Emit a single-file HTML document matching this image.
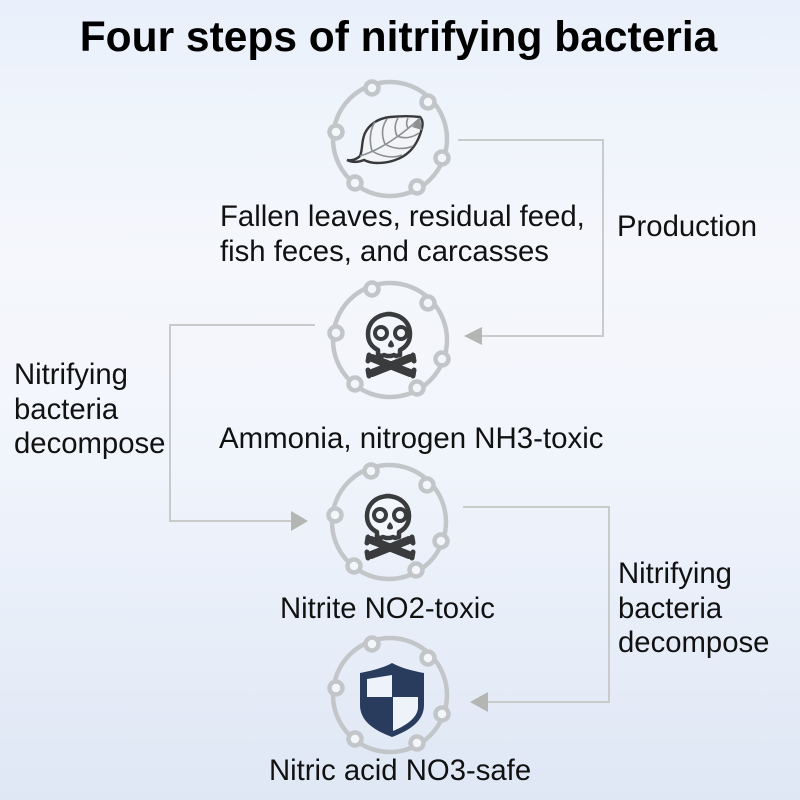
<!DOCTYPE html>
<html><head><meta charset="utf-8"><style>
html,body{margin:0;padding:0}
body{width:800px;height:800px;overflow:hidden;position:relative;background:linear-gradient(180deg,#e9f0fb 0%,#eff4fb 14%,#f5f7fc 32%,#f3f6fc 50%,#e9eff9 75%,#dfe7f5 100%);font-family:"Liberation Sans",sans-serif;color:#111}
svg{position:absolute;left:0;top:0}
.t{position:absolute;font-size:29.3px;line-height:34.5px;white-space:nowrap}
</style></head><body>
<svg width="800" height="800" viewBox="0 0 800 800">
<defs>
<g id="ring" fill="none" stroke="#c3c6c9" stroke-width="4.5">
<circle cx="0" cy="0" r="57"/>
<g fill="#f3f6fb"><circle cx="-18" cy="-51" r="6.5"/><circle cx="38" cy="-37" r="6.5"/><circle cx="-54" cy="-7" r="6.5"/><circle cx="52" cy="19" r="6.5"/><circle cx="-35" cy="44" r="6.5"/><circle cx="27" cy="48" r="6.5"/></g>
</g>
<g id="skull">
<path d="M0,-26c-15,0-23,9-23,20c0,8,4,13,10,16v5l4,1l2-1l3,1l4,0l3,-1l2,1l4,-1v-5c6-3,10-8,10-16c0-11-8-20-23-20z" fill="#f3f6fb" stroke="#3a3b3d" stroke-width="4.5" stroke-linejoin="round"/>
<circle cx="-10" cy="-7" r="6" fill="none" stroke="#3a3b3d" stroke-width="4"/>
<circle cx="8" cy="-7" r="6" fill="none" stroke="#3a3b3d" stroke-width="4" transform="translate(2,0)"/>
<path d="M0,0c-2,2-3,4-3,6c1,2,5,2,6,0c0-2-1-4-3-6z" fill="#3a3b3d"/>
<g stroke="#3a3b3d" stroke-width="8" stroke-linecap="round">
<path d="M-19,18L19,33"/>
<path d="M19,18L-19,33"/>
</g>
<g stroke="#3a3b3d" stroke-width="5" stroke-linecap="round">
<path d="M-22,15l-1,6M22,15l1,6M-23,30l1,6M23,30l-1,6"/>
</g>
</g>
</defs>
<use href="#ring" x="390" y="139"/>
<use href="#ring" x="390" y="340"/>
<use href="#ring" x="389" y="522"/>
<use href="#ring" x="390" y="695"/>
<g fill="none" stroke="#c8cbc9" stroke-width="2">
<path d="M458,140H603V336H482"/>
<path d="M315,325H170V521H292"/>
<path d="M463,507H609V702H488"/>
</g>
<g fill="#b3b6b2">
<path d="M464,336l18-9v18z"/>
<path d="M308,521l-17-10v20z"/>
<path d="M470,702l18-10v20z"/>
</g>
<path d="M347,160c5,1 10,-1 13,-4c3,-7 1,-14 5,-23c5,-10 15,-15 25,-16c11,-1 22,-1 30,0c3,3 3,7 2,11c-2,8 -6,17 -12,23c-9,9 -22,12 -33,12c-5,0 -9,-1 -13,-3c-5,2 -11,3 -17,0z" fill="#f2f4f7" stroke="#38393b" stroke-width="2.4"/>
<g fill="none" stroke="#8c8f92" stroke-width="1.6">
<path d="M360,156C380,150 402,135 420,118"/>
<path d="M372,151c-3-10-2-22 3-29M385,144c-4-9-3-18 2-25M397,136c-3-7-2-13 1-18M408,128c-2-3-2-6 0-10"/>
<path d="M372,151c8,5 20,8 30,4M385,144c8,5 19,6 28,2M397,136c7,3 15,2 22,-3"/>
</g>
<path d="M412,127l8-9l2,12z" fill="#8c8f92"/>
<use href="#skull" x="391" y="340"/>
<use href="#skull" x="390" y="522"/>
<path d="M392,663c-9,5-21,8-32,10v32c0,17 16,26 32,32c16-6 32-15 32-32v-32c-11-2-23-5-32-10z" fill="#2a3c5e"/>
<path d="M367,679l25-4v22h-25z" fill="#eef2f9"/>
<path d="M393,697h25v10c0,11-13,19-25,24z" fill="#eef2f9"/>
</svg>
<div style="position:absolute;left:0;width:797px;top:13px;text-align:center;font-size:42.5px;line-height:50px;font-weight:bold;color:#000;white-space:nowrap">Four steps of nitrifying bacteria</div>
<div class="t" style="left:220px;top:200px">Fallen leaves, residual feed,<br>fish feces, and carcasses</div>
<div class="t" style="left:617px;top:210px">Production</div>
<div class="t" style="left:14px;top:358px">Nitrifying<br>bacteria<br>decompose</div>
<div class="t" style="left:219px;top:422px;font-size:29.45px">Ammonia, nitrogen NH3-toxic</div>
<div class="t" style="left:280px;top:592px">Nitrite NO2-toxic</div>
<div class="t" style="left:618px;top:557px">Nitrifying<br>bacteria<br>decompose</div>
<div class="t" style="left:269px;top:754px">Nitric acid NO3-safe</div>
</body></html>
